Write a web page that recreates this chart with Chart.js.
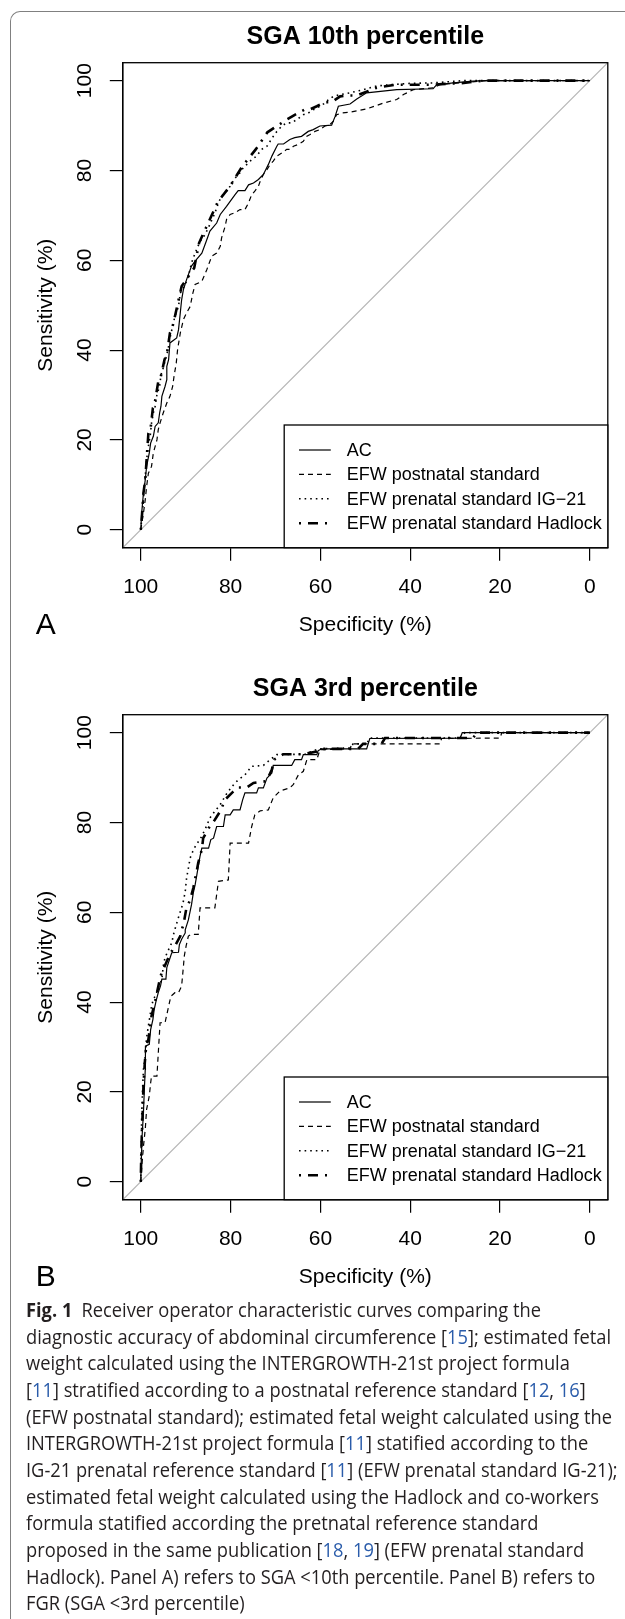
<!DOCTYPE html>
<html>
<head>
<meta charset="utf-8">
<script src="https://cdn.jsdelivr.net/npm/chart.js@4.4.1/dist/chart.umd.min.js"></script>
<style>
  html, body { margin: 0; padding: 0; background: #fff; }
  body { width: 625px; height: 1619px; position: relative; overflow: hidden; }
  .frame {
    position: absolute; left: 10px; top: 11px; width: 700px; height: 1700px;
    border-left: 1.5px solid #808080; border-top: 1.5px solid #808080;
    border-top-left-radius: 10px;
  }
  canvas { position: absolute; left: 0; }
  #chartA { top: 0; }
  #chartB { top: 652px; }
  .caption {
    position: absolute; left: 26px; top: 1297px;
    font-family: 'Open Sans', 'Noto Sans', sans-serif; font-size: 19.5px;
    line-height: 26.67px; color: #231f20; white-space: nowrap;
    transform-origin: 0 0;
  }
  .caption b { font-weight: 700; }
  .caption .ref { color: #2a5caa; }
</style>
</head>
<body>
<div class="frame"></div>
<canvas id="chartA" width="625" height="650"></canvas>
<canvas id="chartB" width="625" height="650"></canvas>
<div class="caption" id="caption">
<span><b>Fig. 1</b>&ensp;Receiver operator characteristic curves comparing the</span><br>
<span>diagnostic accuracy of abdominal circumference [<span class="ref">15</span>]; estimated fetal</span><br>
<span>weight calculated using the INTERGROWTH-21st project formula</span><br>
<span>[<span class="ref">11</span>] stratified according to a postnatal reference standard [<span class="ref">12</span>, <span class="ref">16</span>]</span><br>
<span id="capWide">(EFW postnatal standard); estimated fetal weight calculated using the</span><br>
<span>INTERGROWTH-21st project formula [<span class="ref">11</span>] statified according to the</span><br>
<span>IG-21 prenatal reference standard [<span class="ref">11</span>] (EFW prenatal standard IG-21);</span><br>
<span>estimated fetal weight calculated using the Hadlock and co-workers</span><br>
<span>formula statified according the pretnatal reference standard</span><br>
<span>proposed in the same publication [<span class="ref">18</span>, <span class="ref">19</span>] (EFW prenatal standard</span><br>
<span>Hadlock). Panel A) refers to SGA &lt;10th percentile. Panel B) refers to</span><br>
<span>FGR (SGA &lt;3rd percentile)</span>
</div>
<script>
// axis ticks (both axes, percent)
const tickValues = [0, 20, 40, 60, 80, 100];
const seriesNames = ['AC', 'EFW postnatal standard', 'EFW prenatal standard IG\u221221', 'EFW prenatal standard Hadlock'];
const chanceLine = [[104, -4], [-4, 104]];

// Panel A: SGA 10th percentile, [specificity, sensitivity]
const acA = [[100,0],[99.8,3.7],[99.4,8.2],[99.0,11.1],[98.7,14.1],[98.1,17.1],[97.8,19.3],[97.2,20.8],[96.8,23.0],[96.1,23.8],[95.8,26.0],[95.5,27.5],[95.3,29.7],[94.6,31.9],[94.2,33.4],[94.2,36.4],[93.8,37.9],[93.5,41.6],[92.0,42.7],[91.6,44.5],[91.2,48.3],[90.9,51.2],[90.5,53.5],[89.8,55.7],[88.7,58.7],[87.9,59.8],[86.4,61.6],[85.5,64.0],[84.6,66.5],[83.1,68.3],[82.3,70.2],[80.9,72.0],[79.0,74.6],[78.3,75.5],[76.8,75.5],[76.0,76.8],[74.9,77.2],[73.8,78.0],[72.7,79.1],[71.6,81.3],[70.8,83.2],[69.7,85.4],[69.4,85.9],[68.2,85.9],[66.8,86.9],[65.7,87.3],[64.2,87.6],[62.7,88.7],[61.6,89.1],[60.1,89.9],[57.5,90.1],[56.7,92.1],[56.0,94.3],[53.4,94.8],[51.9,95.9],[49.7,97.3],[43.0,98.0],[34.9,98.2],[34.1,99.1],[30.4,99.5],[26.0,99.9],[23.0,100],[0,100]];
const postA = [[100,0],[99.4,3.7],[99.0,6.7],[98.7,9.6],[98.3,12.6],[97.6,14.1],[97.2,17.1],[96.4,20.0],[96.1,22.3],[95.7,23.8],[95.0,26.0],[94.2,28.2],[93.5,29.7],[92.9,31.9],[92.6,34.1],[92.1,37.1],[91.8,40.1],[91.2,43.8],[90.5,46.8],[89.8,48.3],[89.0,49.7],[88.4,52.7],[87.9,54.6],[86.4,55.3],[85.3,57.9],[84.9,59.0],[84.2,60.9],[83.1,61.6],[82.3,63.1],[82.0,65.0],[81.2,67.6],[80.9,69.1],[80.1,70.2],[79.0,70.6],[77.9,71.3],[76.8,71.3],[76.0,72.8],[75.3,74.6],[74.6,75.4],[73.8,76.5],[73.4,77.6],[72.7,79.1],[71.9,80.2],[71.2,81.3],[70.5,82.1],[69.7,83.2],[68.6,83.9],[67.5,84.7],[66.8,84.7],[66.0,85.4],[64.9,85.8],[63.8,86.5],[63.1,87.6],[62.3,88.0],[61.2,88.7],[60.1,89.1],[59.0,89.9],[57.9,90.2],[57.1,91.0],[56.4,92.4],[55.3,92.8],[53.4,93.0],[49.7,93.7],[46.0,95.0],[43.0,95.8],[41.5,96.9],[39.3,98.0],[34.9,98.4],[33.4,99.1],[28.9,99.5],[23.0,100],[0,100]];
const ig21A = [[100,0],[99.6,4.5],[99.3,8.2],[99.0,11.9],[98.7,15.6],[98.3,18.6],[97.9,20.8],[97.6,23.8],[97.2,26.0],[96.8,27.5],[96.4,30.1],[95.8,31.9],[95.5,34.5],[95.0,36.0],[94.2,39.0],[93.8,40.8],[93.5,42.7],[92.9,45.3],[92.4,47.5],[91.6,49.7],[91.2,52.7],[90.1,54.6],[89.4,56.4],[88.7,59.4],[87.9,61.6],[86.8,64.2],[85.7,65.7],[84.6,68.0],[83.5,70.5],[82.7,72.8],[82.0,74.3],[80.9,75.4],[80.1,76.5],[79.0,78.3],[77.9,79.5],[77.2,80.6],[76.0,81.7],[75.3,82.4],[74.2,83.2],[73.1,84.7],[71.9,85.4],[71.2,86.5],[70.5,87.6],[69.7,88.7],[68.6,89.9],[67.5,90.6],[66.4,90.6],[65.3,91.3],[63.8,92.4],[62.7,92.8],[61.6,93.5],[60.1,94.3],[59.0,95.0],[58.2,95.8],[57.1,96.5],[55.6,96.9],[53.4,97.3],[50.4,98.0],[47.5,98.8],[44.5,99.1],[40.1,99.4],[34.9,99.5],[29.7,99.9],[28.2,100],[0,100]];
const hadA = [[100,0],[99.8,2.2],[99.4,8.2],[99.0,11.1],[98.7,15.6],[98.3,21.5],[97.8,22.7],[97.3,27.1],[97.0,27.5],[96.1,33.0],[95.7,33.4],[94.7,37.9],[94.2,39.0],[93.5,43.8],[93.1,44.5],[92.4,47.5],[90.9,54.2],[88.1,58.3],[87.0,63.9],[84.9,68.5],[82.9,72.9],[80.0,76.7],[77.4,80.9],[74.4,84.7],[71.8,88.5],[67.7,91.2],[65.7,92.4],[63.4,93.6],[62.3,93.6],[60.8,94.3],[59.0,95.2],[57.5,95.2],[55.6,96.5],[53.8,96.7],[51.9,96.7],[48.6,98.0],[47.5,98.4],[43.4,99.1],[34.9,99.1],[30.4,99.4],[28.9,99.4],[23.7,100],[0,100]];

// Panel B: SGA 3rd percentile, [specificity, sensitivity]
const acB = [[100,0],[99.9,4.2],[99.7,10.2],[99.4,15.4],[99.2,20.6],[99.0,25.0],[98.96,30.2],[98.1,30.6],[97.8,33.9],[97.3,36.1],[97.0,38.4],[96.6,40.2],[96.1,42.1],[95.6,43.6],[95.3,45.1],[94.4,45.1],[94.2,47.7],[93.6,49.5],[93.1,51.0],[91.6,51.1],[91.4,52.8],[90.9,54.0],[90.1,55.4],[90.1,56.1],[89.4,58.3],[88.7,61.7],[88.3,64.3],[87.9,66.1],[87.5,68.4],[87.2,70.2],[86.8,72.5],[86.4,74.3],[84.9,74.3],[84.4,76.2],[83.8,76.5],[83.1,79.1],[81.6,79.1],[81.2,81.7],[80.1,81.7],[79.4,82.8],[77.9,82.8],[77.3,85.1],[76.8,86.6],[74.2,86.6],[73.8,87.7],[72.7,87.7],[71.9,89.9],[70.8,91.0],[70.5,92.7],[66.4,92.7],[65.7,94.0],[64.2,94.0],[63.8,95.1],[60.8,95.1],[60.5,96.0],[59.7,96.4],[49.7,96.4],[49.0,98.7],[28.9,98.8],[28.4,100],[0,100]];
const postB = [[100,0],[99.7,4.2],[99.4,7.9],[99.0,11.7],[98.7,16.1],[98.1,19.1],[97.8,22.0],[97.6,23.5],[96.4,23.5],[95.7,35.4],[94.6,35.4],[93.3,41.3],[92.4,42.1],[91.6,42.1],[90.9,43.6],[90.7,45.8],[90.5,48.0],[90.3,50.3],[89.9,52.5],[89.4,54.7],[88.7,55.1],[87.2,55.1],[86.8,61.0],[83.5,61.0],[82.7,66.9],[80.5,67.2],[80.1,75.4],[76.0,75.4],[75.3,79.1],[74.6,81.7],[73.4,82.6],[71.6,82.8],[70.5,85.5],[69.0,87.0],[66.8,87.7],[66.0,88.5],[64.9,90.6],[63.8,91.4],[63.0,94.0],[60.8,94.0],[60.1,96.2],[53.4,96.4],[53.0,97.5],[33.4,97.5],[33.0,98.7],[20.0,98.8],[19.6,100],[0,100]];
const ig21B = [[100,0],[99.9,7.9],[99.8,14.6],[99.6,20.6],[99.4,25.0],[99.0,28.0],[98.7,32.1],[98.3,34.7],[97.6,39.1],[97.2,40.6],[96.6,41.7],[96.1,43.2],[95.3,45.1],[95.0,48.0],[94.6,49.9],[93.8,51.7],[93.1,53.2],[92.7,55.1],[92.1,57.2],[91.4,59.5],[90.6,62.0],[90.1,64.6],[89.8,67.6],[89.4,69.8],[89.0,72.1],[88.4,73.6],[87.7,75.0],[86.8,76.2],[85.7,78.4],[84.6,81.0],[83.5,82.5],[82.3,84.0],[81.0,86.2],[79.7,88.0],[78.3,89.5],[76.8,90.6],[75.3,92.5],[72.7,92.7],[71.2,94.0],[69.7,95.1],[63.4,95.2],[61.6,96.0],[60.1,96.4],[53.4,96.6],[52.7,97.5],[49.7,97.5],[49.0,98.8],[28.9,98.8],[27.8,100],[0,100]];
const hadB = [[100,0],[99.85,7.9],[99.6,14.6],[99.4,21.3],[99.1,26.5],[98.8,30.2],[98.3,31.7],[97.9,34.7],[97.6,36.9],[96.8,40.2],[96.3,42.5],[95.6,45.8],[95.0,47.3],[94.2,49.1],[93.3,51.0],[92.4,52.5],[91.2,54.7],[91.1,55.5],[90.5,57.2],[89.9,60.6],[89.0,62.8],[88.3,65.4],[87.7,68.4],[87.2,71.0],[86.4,74.0],[86.1,76.5],[84.9,78.7],[83.5,80.6],[82.3,82.5],[81.2,85.1],[79.7,86.6],[78.3,87.8],[76.4,87.8],[74.9,88.8],[72.0,89.2],[70.8,91.8],[70.3,94.0],[68.3,95.2],[63.8,95.2],[60.8,95.8],[60.1,96.4],[51.6,96.4],[50.5,97.5],[46.4,97.5],[45.6,98.8],[26.0,98.8],[25.2,100],[0,100]];

const FONT = '"Liberation Sans", Arial, Helvetica, sans-serif';

// line styles mimic R lty 1, 2, 3, 4
const styles = [
  { borderWidth: 1.2, borderDash: [] },
  { borderWidth: 1.2, borderDash: [5, 4] },
  { borderWidth: 1.6, borderDash: [1.6, 4] },
  { borderWidth: 2.6, borderDash: [2, 7, 10, 7] },
];

const toXY = pairs => pairs.map(p => ({ x: p[0], y: p[1] }));

// box around plot, legend, panel letter
const panelDecor = {
  id: 'panelDecor',
  afterDatasetsDraw(chart, args, opts) {
    const { ctx, chartArea: a } = chart;
    ctx.save();
    ctx.strokeStyle = '#000';
    ctx.lineWidth = 1.3;
    ctx.strokeRect(a.left, a.top, a.right - a.left, a.bottom - a.top);

    const lw = 323.6, lh = 122.7;
    const lx = a.right - lw, ly = a.bottom - lh;
    ctx.fillStyle = '#fff';
    ctx.fillRect(lx, ly, lw, lh);
    ctx.strokeRect(lx, ly, lw, lh);
    ctx.font = '18px ' + FONT;
    ctx.textBaseline = 'middle';
    ctx.textAlign = 'left';
    seriesNames.forEach((name, i) => {
      const y = ly + 25 + i * 24.4;
      const st = styles[i];
      ctx.beginPath();
      ctx.lineWidth = st.borderWidth;
      ctx.setLineDash(st.borderDash);
      ctx.moveTo(lx + 14.8, y);
      ctx.lineTo(lx + 46.6, y);
      ctx.stroke();
      ctx.setLineDash([]);
      ctx.fillStyle = '#000';
      ctx.fillText(name, lx + 62.5, y + 1);
    });

    ctx.font = '30px ' + FONT;
    ctx.textAlign = 'center';
    ctx.fillText(opts.letter, 45.8, 626);
    ctx.restore();
  }
};

function makePanel(id, title, letter, curves) {
  const datasets = curves.map((c, i) => ({
    label: seriesNames[i],
    data: toXY(c),
    borderColor: '#000',
    borderWidth: styles[i].borderWidth,
    borderDash: styles[i].borderDash,
    pointRadius: 0,
    tension: 0,
    fill: false,
    order: 1,
  }));
  datasets.push({
    label: 'chance',
    data: toXY(chanceLine),
    borderColor: '#b5b5b5',
    borderWidth: 1.2,
    pointRadius: 0,
    fill: false,
    order: 2,
  });

  const axisBase = {
    type: 'linear',
    min: -4,
    max: 104,
    afterBuildTicks: s => { s.ticks = tickValues.map(v => ({ value: v })); },
    grid: { drawOnChartArea: false, drawTicks: true, tickLength: 13, color: '#000', lineWidth: 1.2 },
    border: { display: true, color: '#000', width: 1.3 },
  };

  return new Chart(document.getElementById(id), {
    type: 'line',
    data: { datasets },
    plugins: [panelDecor],
    options: {
      responsive: false,
      animation: false,
      devicePixelRatio: 1,
      layout: { padding: { left: 0, right: 17.2, top: 0, bottom: 0 } },
      plugins: {
        legend: { display: false },
        tooltip: { enabled: false },
        title: {
          display: true,
          text: title,
          fullSize: false,
          color: '#000',
          font: { family: FONT, size: 25, weight: 'bold' },
          padding: { top: 22, bottom: 10.7 },
        },
        panelDecor: { letter },
      },
      scales: {
        x: {
          ...axisBase,
          reverse: true,
          afterFit: s => { s.height = 102.3; },
          ticks: { autoSkip: false, maxRotation: 0, color: '#000', padding: 14, font: { family: FONT, size: 21 } },
          title: { display: true, text: 'Specificity (%)', color: '#000', font: { family: FONT, size: 21 }, padding: { top: 0, bottom: 12.4 } },
        },
        y: {
          ...axisBase,
          afterFit: s => { s.width = 122.8; },
          ticks: { autoSkip: false, minRotation: 90, maxRotation: 90, crossAlign: 'center', color: '#000', padding: 6.6, font: { family: FONT, size: 21 } },
          title: { display: true, text: 'Sensitivity (%)', color: '#000', font: { family: FONT, size: 21 }, padding: { top: 33.2, bottom: 0 } },
        },
      },
    },
  });
}

makePanel('chartA', 'SGA 10th percentile', 'A', [acA, postA, ig21A, hadA]);
makePanel('chartB', 'SGA 3rd percentile', 'B', [acB, postB, ig21B, hadB]);

// squeeze caption to the narrow typeface width of the original
const cap = document.getElementById('caption');
const wide = document.getElementById('capWide').getBoundingClientRect().width;
cap.style.transform = 'scaleX(' + (586 / wide).toFixed(4) + ')';
</script>
</body>
</html>
